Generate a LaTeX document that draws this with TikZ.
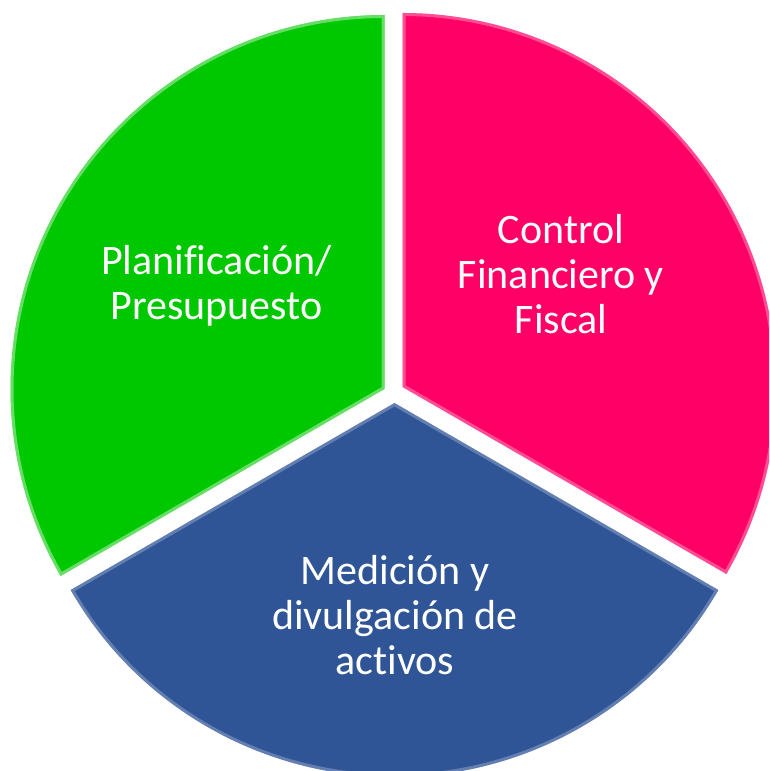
\documentclass[tikz,border=0pt]{standalone}
\usepackage{fontspec}
\setmainfont[Ligatures=NoCommon]{Carlito}
\definecolor{pgreen}{HTML}{00C800}
\definecolor{ppink}{HTML}{FF0066}
\definecolor{pblue}{HTML}{2F5597}
\tikzset{
  lbl/.style={text=white, align=center, inner sep=0pt, font=\fontsize{42}{45}\selectfont},
}
\newcommand{\rad}{374}
\begin{document}
\begin{tikzpicture}[x=1pt,y=1pt]
\useasboundingbox (0,0) rectangle (769,771);
\clip (0,0) rectangle (769,771);
\coordinate (ga) at (384.5,382);
\coordinate (pa) at (402.5,384);
\coordinate (ba) at (394.5,368);
% green sector
\fill[pgreen] (ga) -- ++(90:\rad) arc (90:210:\rad) -- cycle;
\begin{scope}
\clip (ga) -- ++(90:\rad) arc (90:210:\rad) -- cycle;
\draw[white, opacity=0.4, line width=6pt, line join=round] (ga) -- ++(90:\rad) arc (90:210:\rad) -- cycle;
\end{scope}
% pink sector
\fill[ppink] (pa) -- ++(-30:\rad) arc (-30:90:\rad) -- cycle;
\begin{scope}
\clip (pa) -- ++(-30:\rad) arc (-30:90:\rad) -- cycle;
\draw[white, opacity=0.3, line width=6pt, line join=round] (pa) -- ++(-30:\rad) arc (-30:90:\rad) -- cycle;
\end{scope}
% blue sector
\fill[pblue] (ba) -- ++(210:\rad) arc (210:330:\rad) -- cycle;
\begin{scope}
\clip (ba) -- ++(210:\rad) arc (210:330:\rad) -- cycle;
\draw[white, opacity=0.25, line width=6pt, line join=round] (ba) -- ++(210:\rad) arc (210:330:\rad) -- cycle;
\end{scope}
% labels
\node[lbl] (tg) at (216.5,485) {Planificación/\\Presupuesto};
\node[lbl] (tp) at (561,496.5) {Control\\Financiero y\\Fiscal};
\node[lbl] (tb) at (395,156) {Medición y\\divulgación de\\activos};
\end{tikzpicture}
\end{document}
